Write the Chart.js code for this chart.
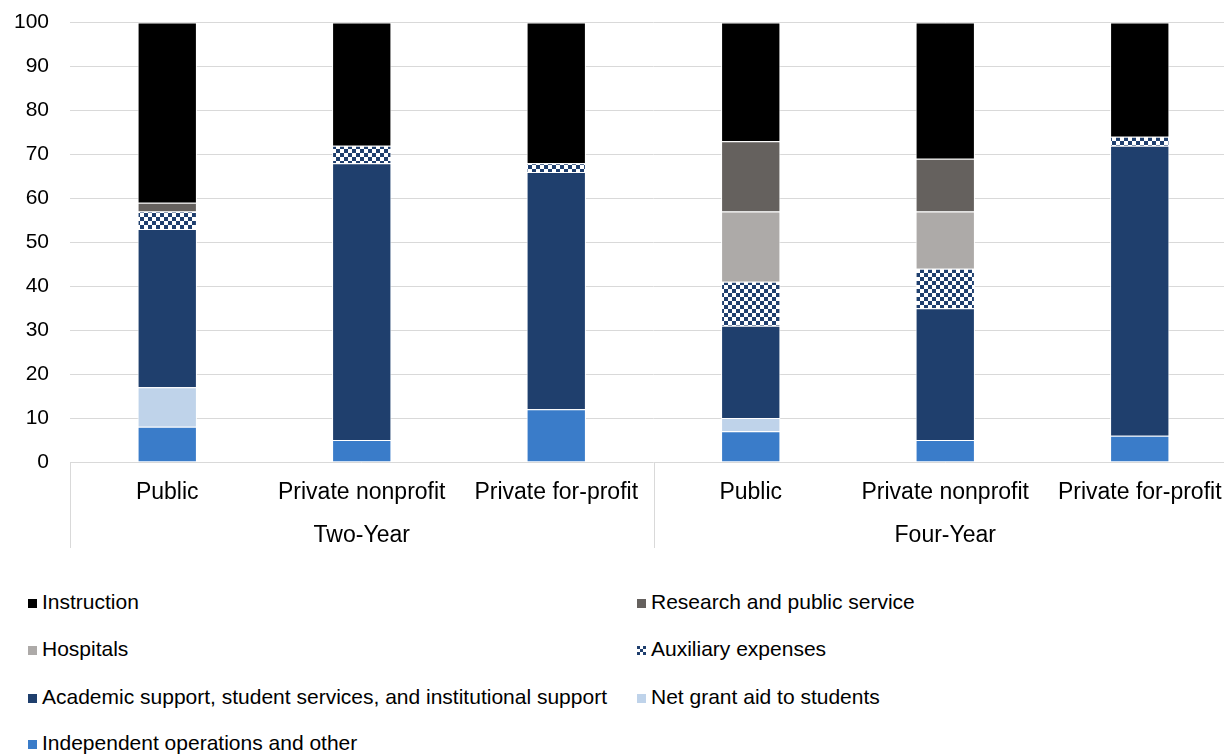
<!DOCTYPE html>
<html>
<head>
<meta charset="utf-8">
<script src="https://cdn.jsdelivr.net/npm/chart.js@4"></script>
<style>
  html, body { margin: 0; padding: 0; background: #fff; overflow: hidden; width: 1224px; height: 755px; }
  #wrap { position: absolute; left: 0; top: -11px; width: 1240px; height: 571px; }
  .leg { position: absolute; font: 21px "Liberation Sans", Arial, sans-serif; color: #000; white-space: nowrap; line-height: 24px; }
  .leg span.box { display: inline-block; width: 9px; height: 9px; margin-right: 5px; vertical-align: 1px; }
</style>
</head>
<body>
<div id="wrap"><canvas id="chart"></canvas></div>
<div id="legend"></div>
<script>
// categories and values (percent of expenses)
const categories = ['Public', 'Private nonprofit', 'Private for-profit', 'Public', 'Private nonprofit', 'Private for-profit'];
const groups = ['Two-Year', 'Four-Year'];

const instruction = [41, 28, 32, 27, 31, 26];
const research    = [2, 0, 0, 16, 12, 0];
const hospitals   = [0, 0, 0, 16, 13, 0];
const auxiliary   = [4, 4, 2, 10, 9, 2];
const academic    = [36, 63, 54, 21, 30, 66];
const netGrant    = [9, 0, 0, 3, 0, 0];
const independent = [8, 5, 12, 7, 5, 6];

const yMax = 100;
const yStep = 10;

const FONT = '"Liberation Sans", Arial, sans-serif';

// checkerboard fill for auxiliary expenses
function makeChecker() {
    const c = document.createElement('canvas');
    c.width = 8; c.height = 8;
    const g = c.getContext('2d');
    g.fillStyle = '#fff';
    g.fillRect(0, 0, 8, 8);
    g.fillStyle = '#1f3f6e';
    g.fillRect(0, 0, 4, 4);
    g.fillRect(4, 4, 4, 4);
    return c;
}
const checkerCanvas = makeChecker();
const ctx = document.getElementById('chart').getContext('2d');
const checker = ctx.createPattern(checkerCanvas, 'repeat');

// bottom-up stacking order
const series = [
    { label: 'Independent operations and other', data: independent, color: '#3a7cc9' },
    { label: 'Net grant aid to students', data: netGrant, color: '#bfd3ea' },
    { label: 'Academic support, student services, and institutional support', data: academic, color: '#1f3f6d' },
    { label: 'Auxiliary expenses', data: auxiliary, color: checker, pattern: true },
    { label: 'Hospitals', data: hospitals, color: '#adaaa8' },
    { label: 'Research and public service', data: research, color: '#65615e' },
    { label: 'Instruction', data: instruction, color: '#000000' }
];

// draws the vertical separators in the category label area
const separators = {
    id: 'separators',
    afterDraw(chart) {
        const x = chart.scales.x;
        const x2 = chart.scales.x2;
        const c = chart.ctx;
        const top = chart.chartArea.bottom;
        const bottom = x2.bottom;
        const mid = (x.getPixelForValue(2) + x.getPixelForValue(3)) / 2;
        c.save();
        c.strokeStyle = '#d9d9d9';
        c.lineWidth = 1;
        [x.left, mid, x.right].forEach(px => {
            const p = Math.round(px) + 0.5;
            c.beginPath();
            c.moveTo(p, top);
            c.lineTo(p, bottom);
            c.stroke();
        });
        c.restore();
    }
};

new Chart(ctx, {
    type: 'bar',
    data: {
        labels: categories,
        datasets: series.map(s => ({
            label: s.label,
            data: s.data,
            backgroundColor: s.color,
            borderColor: '#ffffff',
            borderWidth: 1,
            categoryPercentage: 1,
            barPercentage: 0.305
        }))
    },
    options: {
        responsive: true,
        maintainAspectRatio: false,
        animation: false,
        layout: { padding: { top: 11, right: 3, bottom: 12, left: 0 } },
        plugins: {
            legend: { display: false },
            tooltip: { enabled: false }
        },
        scales: {
            x: {
                stacked: true,
                weight: 0,
                grid: { display: false, drawTicks: false },
                border: { display: false },
                ticks: { color: '#000', font: { family: FONT, size: 23 }, padding: 17, maxRotation: 0, autoSkip: false },
                afterFit(scale) { scale.height = 43; }
            },
            x2: {
                type: 'category',
                labels: groups,
                offset: true,
                position: 'bottom',
                weight: 1,
                grid: { display: false, drawTicks: false },
                border: { display: false },
                ticks: { color: '#000', font: { family: FONT, size: 23 }, padding: 17, maxRotation: 0 },
                afterFit(scale) { scale.height = 43; }
            },
            y: {
                stacked: true,
                min: 0,
                max: yMax,
                grid: { color: '#d9d9d9', lineWidth: 1, drawTicks: false },
                border: { display: false },
                ticks: { stepSize: yStep, color: '#000', font: { family: FONT, size: 21 }, padding: 21 },
                afterFit(scale) { scale.width = 70; }
            }
        }
    },
    plugins: [separators]
});

// legend, two columns, same order as the original
const legendItems = [
    ['Instruction', 'Research and public service'],
    ['Hospitals', 'Auxiliary expenses'],
    ['Academic support, student services, and institutional support', 'Net grant aid to students'],
    ['Independent operations and other']
];
const legendRowsY = [602, 649, 697, 743];
const legendColsX = [28, 637];
const checkerUrl = checkerCanvas.toDataURL();
const legendDiv = document.getElementById('legend');
legendItems.forEach((row, r) => {
    row.forEach((name, c) => {
        const s = series.find(d => d.label === name);
        const el = document.createElement('div');
        el.className = 'leg';
        el.style.left = legendColsX[c] + 'px';
        el.style.top = (legendRowsY[r] - 12) + 'px';
        const box = document.createElement('span');
        box.className = 'box';
        if (s.pattern) {
            box.style.backgroundImage = 'url(' + checkerUrl + ')';
            box.style.backgroundSize = '6px 6px';
        } else {
            box.style.background = s.color;
        }
        el.appendChild(box);
        el.appendChild(document.createTextNode(name));
        legendDiv.appendChild(el);
    });
});
</script>
</body>
</html>
